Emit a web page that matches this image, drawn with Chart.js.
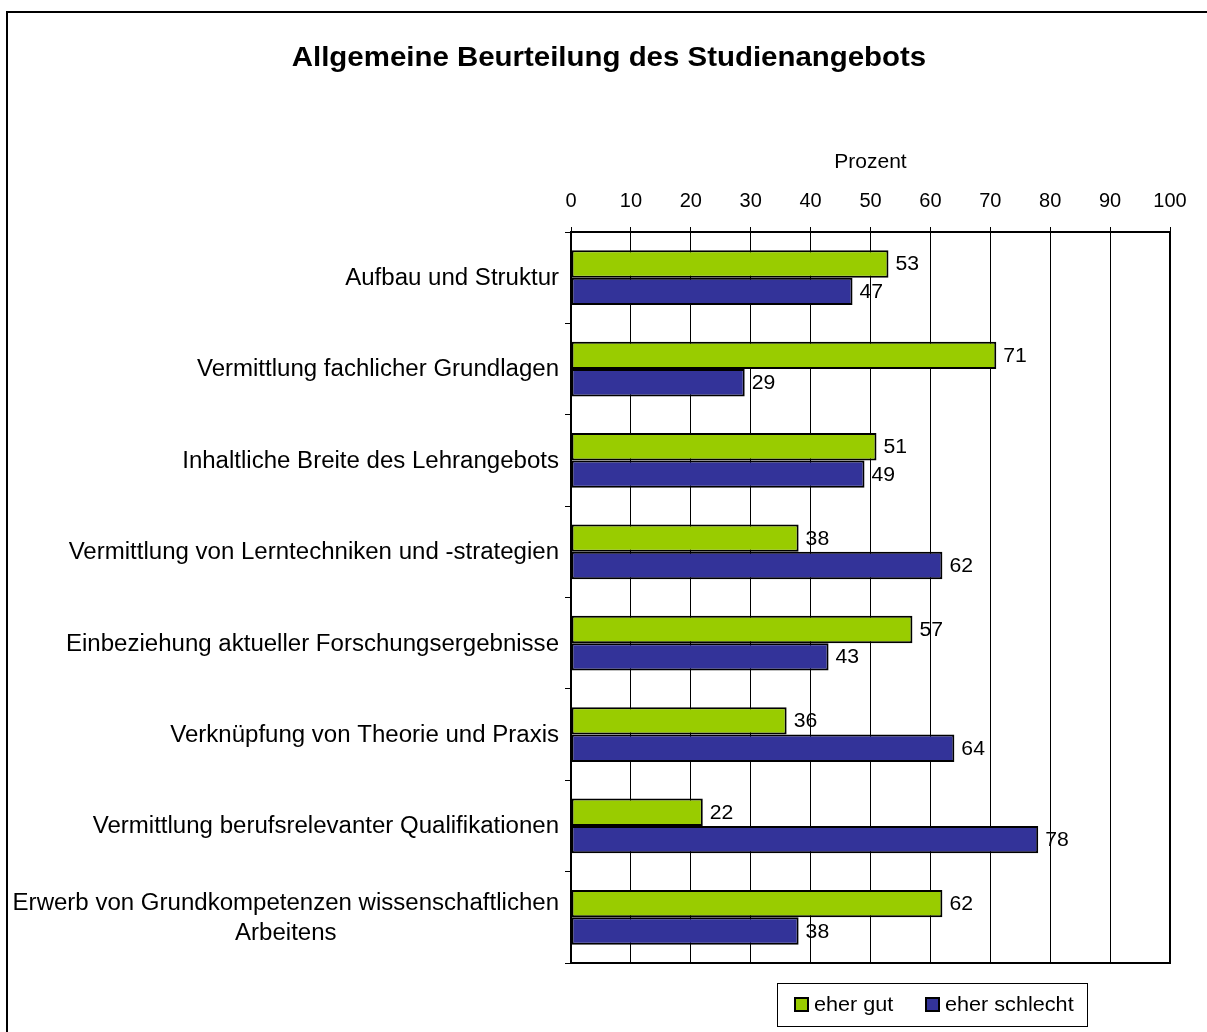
<!DOCTYPE html>
<html>
<head>
<meta charset="utf-8">
<script src="https://cdn.jsdelivr.net/npm/chart.js@4"></script>
<style>
  html, body { margin: 0; padding: 0; background: #fff; }
  #wrap { width: 1207px; height: 1032px; position: relative; }
</style>
</head>
<body>
<div id="wrap"><canvas id="chart"></canvas></div>
<script>
// Kategorien und Werte (Prozent)
const categories = [
  'Aufbau und Struktur',
  'Vermittlung fachlicher Grundlagen',
  'Inhaltliche Breite des Lehrangebots',
  'Vermittlung von Lerntechniken und -strategien',
  'Einbeziehung aktueller Forschungsergebnisse',
  'Verknüpfung von Theorie und Praxis',
  'Vermittlung berufsrelevanter Qualifikationen',
  ['Erwerb von Grundkompetenzen wissenschaftlichen', 'Arbeitens']
];
const eherGut = [53, 71, 51, 38, 57, 36, 22, 62];
const eherSchlecht = [47, 29, 49, 62, 43, 64, 78, 38];
const xTicks = [0, 10, 20, 30, 40, 50, 60, 70, 80, 90, 100];

const FONT = "'Liberation Sans', Arial, sans-serif";

// Text leicht in die Breite gezogen, wie im Original
function wideText(ctx, text, x, y, sx, align) {
  const w = ctx.measureText(text).width * sx;
  let left = x;
  if (align === 'center') left = x - w / 2;
  else if (align === 'right') left = x - w;
  ctx.save();
  ctx.textAlign = 'left';
  ctx.translate(left, y);
  ctx.scale(sx, 1);
  ctx.fillText(text, 0, 0);
  ctx.restore();
  return w;
}

// Rahmen, Titel, Kategorien, Werte und Legende
const decor = {
  id: 'decor',
  beforeDraw(chart) {
    const ctx = chart.ctx;
    ctx.save();
    ctx.fillStyle = '#fff';
    ctx.fillRect(0, 0, chart.width, chart.height);
    ctx.strokeStyle = '#000';
    ctx.lineWidth = 2;
    ctx.strokeRect(7, 12, 1400, 1200);
    ctx.fillStyle = '#000';
    ctx.font = 'bold 27px ' + FONT;
    ctx.textBaseline = 'middle';
    wideText(ctx, 'Allgemeine Beurteilung des Studienangebots', 609, 59, 1.09, 'center');
    ctx.restore();
  },
  afterDatasetsDraw(chart) {
    const ctx = chart.ctx;
    const area = chart.chartArea;
    const yScale = chart.scales.y;
    ctx.save();
    // Plotrahmen
    ctx.strokeStyle = '#000';
    ctx.lineWidth = 2;
    ctx.strokeRect(area.left, area.top, area.right - area.left, area.bottom - area.top);

    // Kategorien links, mehrzeilige zentriert
    ctx.fillStyle = '#000';
    ctx.font = '23px ' + FONT;
    ctx.textBaseline = 'middle';
    const sx = 1.045;
    const rightEdge = area.left - 12;
    chart.data.labels.forEach((lab, i) => {
      const lines = Array.isArray(lab) ? lab : [lab];
      const widest = Math.max(...lines.map(l => ctx.measureText(l).width * sx));
      const cx = rightEdge - widest / 2;
      const cy = yScale.getPixelForValue(i) + 1;
      lines.forEach((l, j) => {
        wideText(ctx, l, cx, cy + (j - (lines.length - 1) / 2) * 30, sx, 'center');
      });
    });

    // Werte neben den Balken
    ctx.font = '20px ' + FONT;
    chart.data.datasets.forEach((ds, di) => {
      chart.getDatasetMeta(di).data.forEach((bar, i) => {
        wideText(ctx, String(ds.data[i]), bar.x + 7, bar.y + 1, 1.06, 'left');
      });
    });

    // Legende
    const lx = 777, ly = 983, lw = 310, lh = 43;
    ctx.lineWidth = 1;
    ctx.strokeStyle = '#000';
    ctx.strokeRect(lx + 0.5, ly + 0.5, lw, lh);
    ctx.font = '21px ' + FONT;
    const items = [795, 926];
    chart.data.datasets.forEach((ds, di) => {
      const ix = items[di];
      ctx.fillStyle = ds.backgroundColor;
      ctx.fillRect(ix, 998, 13, 13);
      ctx.lineWidth = 2;
      ctx.strokeRect(ix, 998, 13, 13);
      ctx.fillStyle = '#000';
      wideText(ctx, ds.label, ix + 19, 1005, 1.03, 'left');
    });
    ctx.restore();
  }
};

new Chart(document.getElementById('chart'), {
  type: 'bar',
  data: {
    labels: categories,
    datasets: [
      {
        label: 'eher gut',
        data: eherGut,
        backgroundColor: '#99cc00',
        borderColor: '#000',
        borderWidth: 2,
        borderSkipped: false
      },
      {
        label: 'eher schlecht',
        data: eherSchlecht,
        backgroundColor: '#333399',
        borderColor: '#000',
        borderWidth: 2,
        borderSkipped: false
      }
    ]
  },
  options: {
    indexAxis: 'y',
    responsive: true,
    maintainAspectRatio: false,
    animation: false,
    categoryPercentage: 0.6,
    barPercentage: 1.0,
    layout: { padding: { top: 147, left: 0, right: 37, bottom: 69 } },
    plugins: {
      legend: { display: false },
      tooltip: { enabled: false },
      title: { display: false }
    },
    scales: {
      x: {
        position: 'top',
        min: 0,
        max: 100,
        afterBuildTicks(scale) { scale.ticks = xTicks.map(v => ({ value: v })); },
        afterFit(scale) { scale.height = 85; },
        ticks: { color: '#000', font: { family: FONT, size: 20 }, padding: 14 },
        grid: { color: '#000', lineWidth: 1, tickLength: 5 },
        border: { display: true, color: '#000', width: 2 },
        title: {
          display: true,
          text: 'Prozent',
          color: '#000',
          font: { family: FONT, size: 21 },
          padding: { top: 3, bottom: 4 }
        }
      },
      y: {
        afterFit(scale) { scale.width = 571; },
        ticks: { display: false },
        grid: { color: '#000', lineWidth: 1, tickLength: 6, drawOnChartArea: false },
        border: { display: true, color: '#000', width: 2 }
      }
    }
  },
  plugins: [decor]
});
</script>
</body>
</html>
